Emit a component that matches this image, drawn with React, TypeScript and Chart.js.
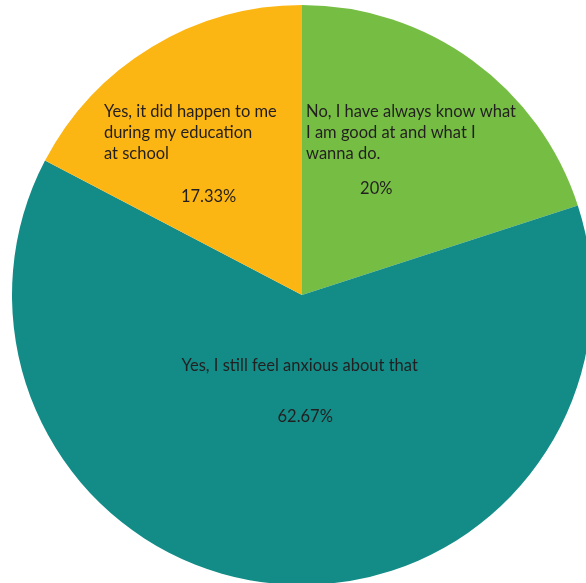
import React, { useEffect, useRef } from "react";
import { Chart, registerables } from "chart.js";

Chart.register(...registerables);

const categories: string[][] = [
  ["No, I have always know what", "I am good at and what I", "wanna do."],
  ["Yes, I still feel anxious about that"],
  ["Yes, it did happen to me", "during my education", "at school"],
];
const values: number[] = [20, 62.67, 17.33];
const percentLabels: string[] = ["20%", "62.67%", "17.33%"];
const colors: string[] = ["#75BE43", "#138C87", "#FCB614"];

// label layout, in units of the pie radius, relative to the pie centre
const labelLayout = [
  { tx: 0.014, ty: -0.633, align: "left", px: 0.256, py: -0.365 },
  { tx: -0.008, ty: 0.242, align: "center", px: 0.011, py: 0.42 },
  { tx: -0.683, ty: -0.633, align: "left", px: -0.322, py: -0.34 },
];

const FONT = "16.5px Lato, 'Open Sans', sans-serif";
const LINE_H = 21;

const labelPlugin = {
  id: "sliceLabels",
  afterDatasetsDraw(chart: any) {
    const ctx = chart.ctx;
    const meta = chart.getDatasetMeta(0);
    ctx.save();
    ctx.font = FONT;
    ctx.fillStyle = "#231f20";
    ctx.textBaseline = "middle";
    meta.data.forEach((arc: any, i: number) => {
      const { x, y, outerRadius } = arc.getProps(["x", "y", "outerRadius"], true);
      const L = labelLayout[i];
      ctx.textAlign = L.align;
      const lines = categories[i];
      lines.forEach((line, j) => {
        ctx.fillText(line, x + L.tx * outerRadius, y + L.ty * outerRadius + j * LINE_H);
      });
      ctx.textAlign = "center";
      ctx.fillText(percentLabels[i], x + L.px * outerRadius, y + L.py * outerRadius);
    });
    ctx.restore();
  },
};

export default function App() {
  const ref = useRef<HTMLCanvasElement | null>(null);
  useEffect(() => {
    if (!ref.current) return;
    const chart = new Chart(ref.current, {
      type: "pie",
      data: {
        labels: categories.map((c) => c.join(" ")),
        datasets: [
          {
            data: values,
            backgroundColor: colors,
            borderWidth: 0,
          },
        ],
      },
      options: {
        responsive: false,
        animation: false,
        devicePixelRatio: 1,
        layout: { padding: 0 },
        plugins: {
          legend: { display: false },
          tooltip: { enabled: false },
        },
      },
      plugins: [labelPlugin],
    });
    return () => chart.destroy();
  }, []);
  return (
    <div
      style={{
        position: "fixed",
        left: 0,
        top: 0,
        width: 586,
        height: 583,
        overflow: "hidden",
        background: "#ffffff",
      }}
    >
      <canvas
        ref={ref}
        width={580}
        height={580}
        style={{ position: "absolute", left: 12, top: 5, width: 580, height: 580 }}
      />
    </div>
  );
}
